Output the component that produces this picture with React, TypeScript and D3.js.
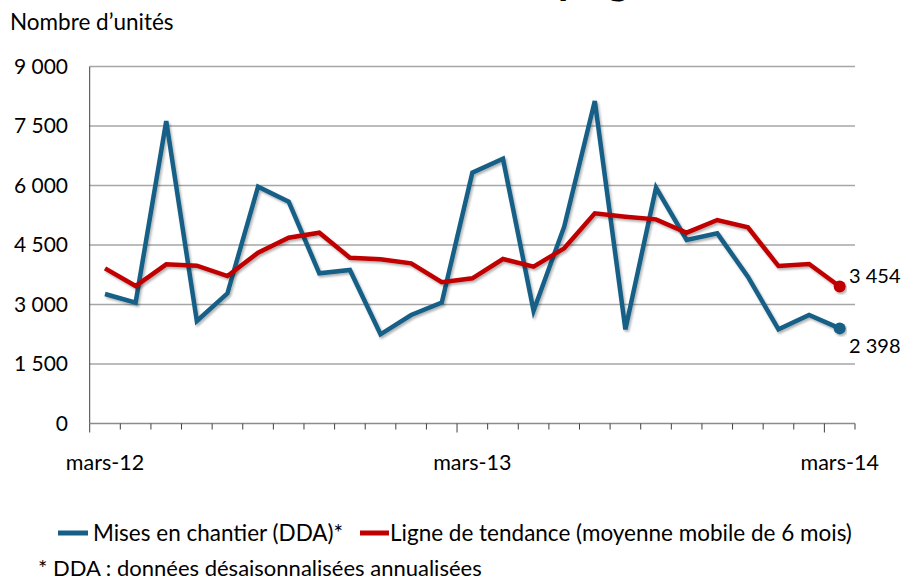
import React from 'react';
import * as d3 from 'd3';

// Mois de mars-12 à mars-14
const months = [
  'mars-12', 'avr.-12', 'mai-12', 'juin-12', 'juil.-12', 'août-12', 'sept.-12', 'oct.-12', 'nov.-12', 'déc.-12', 'janv.-13', 'févr.-13',
  'mars-13', 'avr.-13', 'mai-13', 'juin-13', 'juil.-13', 'août-13', 'sept.-13', 'oct.-13', 'nov.-13', 'déc.-13', 'janv.-14', 'févr.-14',
  'mars-14',
];
const labelledMonths = ['mars-12', 'mars-13', 'mars-14'];

// Mises en chantier (DDA)
const misesEnChantier = [
  3265, 3046, 7626, 2584, 3282, 5970, 5592, 3786, 3870, 2248, 2735, 3046,
  6323, 6676, 2844, 4962, 8130, 2374, 5945, 4626, 4794, 3702, 2374, 2735,
  2398,
];
// Ligne de tendance (moyenne mobile 6 mois)
const tendance = [
  3912, 3466, 4013, 3979, 3718, 4306, 4684, 4810, 4180, 4138, 4038, 3560,
  3660, 4147, 3954, 4416, 5298, 5214, 5147, 4810, 5130, 4945, 3970, 4021,
  3454,
];
const yTicks = [0, 1500, 3000, 4500, 6000, 7500, 9000];

const BLUE = '#155f86';
const RED = '#c00000';
const FONT = 'Lato, "Open Sans", sans-serif';

const frLocale = d3.formatLocale({ decimal: ',', thousands: ' ', grouping: [3], currency: ['', ' €'] });
const fmt = frLocale.format(',d');

export default function App() {
  const width = 904;
  const height = 580;
  const left = 89.7;
  const right = 855;
  const top = 66.5;
  const bottom = 423.5;

  const x = d3.scaleBand<string>().domain(months).range([left, right]).padding(0);
  const y = d3.scaleLinear().domain([0, 9000]).range([bottom, top]);
  const cx = (m: string) => (x(m) as number) + x.bandwidth() / 2;

  const line = d3.line<number>()
    .x((_, i) => cx(months[i]))
    .y(d => y(d));

  const last = months.length - 1;
  const boundaries = months.map(m => x(m) as number).concat([right]);

  return (
    <svg width={width} height={height} style={{ position: 'absolute', left: 0, top: 0, background: '#fff' }}
      fontFamily={FONT}>
      <defs>
        <filter id="shadow" x="-5%" y="-5%" width="110%" height="120%">
          <feDropShadow dx="1.5" dy="2" stdDeviation="1.2" floodColor="#000" floodOpacity="0.3" />
        </filter>
      </defs>

      {/* titre coupé en haut */}
      <text x={558} y={-6} fontSize={42} fontWeight="bold" fill="#000">p</text>
      <text x={607} y={-6} fontSize={42} fontWeight="bold" fill="#000">g</text>

      <text x={10} y={30} fontSize={22.5} fill="#000">Nombre d’unités</text>

      {/* grille */}
      {yTicks.filter(t => t > 0).map(t => (
        <line key={t} x1={left} x2={right} y1={y(t)} y2={y(t)} stroke="#a6a6a6" strokeWidth={1.5} />
      ))}
      {yTicks.map(t => (
        <text key={'l' + t} x={68} y={y(t)} dy="0.35em" textAnchor="end" fontSize={21} fill="#000">{fmt(t)}</text>
      ))}

      {/* axes */}
      <line x1={left} x2={left} y1={top} y2={bottom} stroke="#404040" strokeWidth={1} />
      <line x1={left} x2={right} y1={bottom} y2={bottom} stroke="#8c8c8c" strokeWidth={1.5} />
      {boundaries.map((bx, i) => {
        const major = i < months.length && labelledMonths.includes(months[i]);
        return <line key={'t' + i} x1={bx} x2={bx} y1={bottom} y2={bottom + (major ? 9 : 6)} stroke="#404040" strokeWidth={1} />;
      })}
      {labelledMonths.map(m => (
        <text key={m} x={cx(m)} y={470} textAnchor="middle" fontSize={21.5} fill="#000">{m}</text>
      ))}

      {/* séries */}
      <path d={line(misesEnChantier) || ''} fill="none" stroke={BLUE} strokeWidth={4.5} strokeLinejoin="miter" filter="url(#shadow)" />
      <path d={line(tendance) || ''} fill="none" stroke={RED} strokeWidth={4.5} strokeLinejoin="miter" filter="url(#shadow)" />
      <circle cx={cx(months[last])} cy={y(tendance[last])} r={6} fill={RED} filter="url(#shadow)" />
      <circle cx={cx(months[last])} cy={y(misesEnChantier[last])} r={6} fill={BLUE} filter="url(#shadow)" />
      <text x={849} y={y(tendance[last]) - 10} dy="0.35em" fontSize={20} fill="#000">{fmt(tendance[last])}</text>
      <text x={849} y={y(misesEnChantier[last]) + 18} dy="0.35em" fontSize={20} fill="#000">{fmt(misesEnChantier[last])}</text>

      {/* légende */}
      <line x1={58} x2={88} y1={533} y2={533} stroke={BLUE} strokeWidth={5} />
      <text x={93} y={541} fontSize={22.5} fill="#000">Mises en chantier (DDA)*</text>
      <line x1={360} x2={389} y1={533} y2={533} stroke={RED} strokeWidth={5} />
      <text x={390} y={541} fontSize={22.5} fill="#000">Ligne de tendance (moyenne mobile de 6 mois)</text>

      <text x={38} y={576} fontSize={22} fill="#000">* DDA : données désaisonnalisées annualisées</text>
    </svg>
  );
}
